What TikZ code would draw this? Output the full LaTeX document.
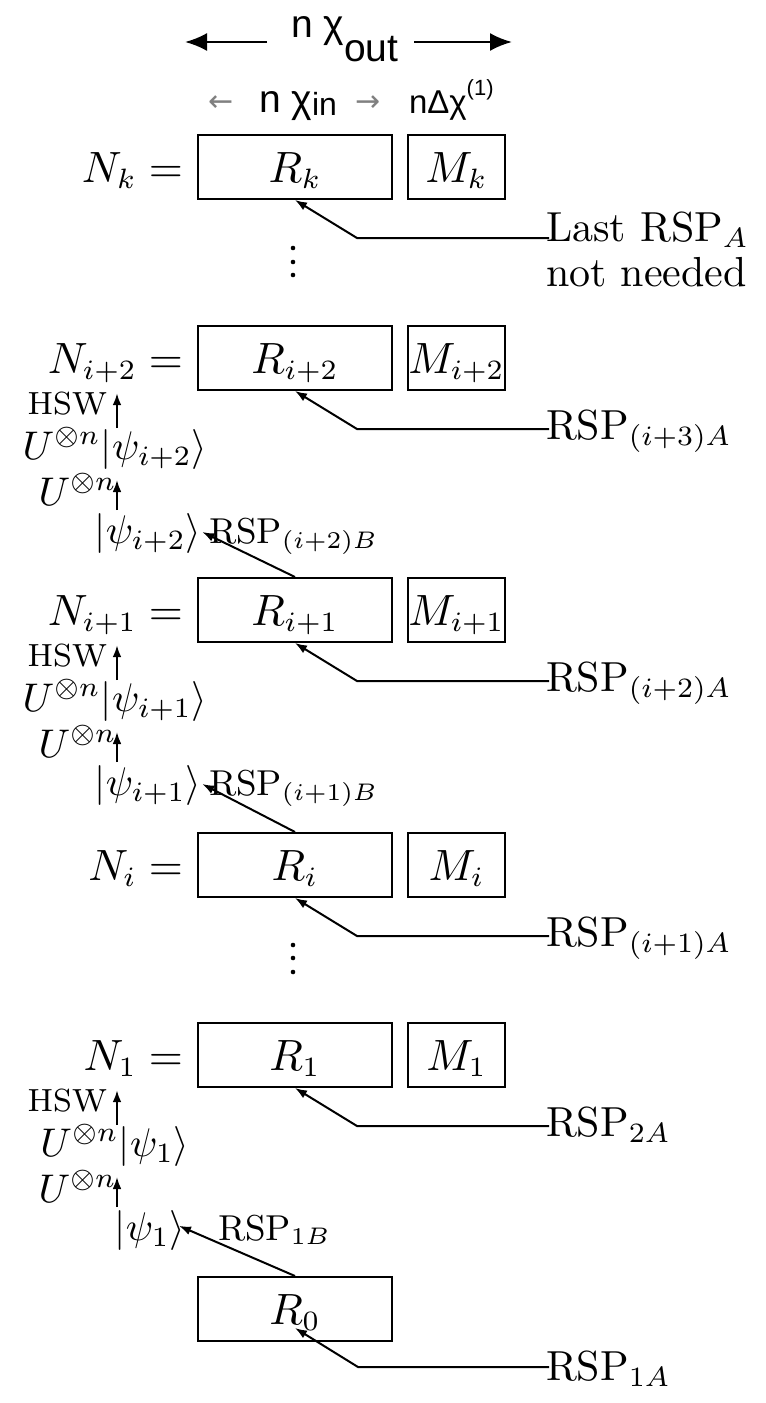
\documentclass[tikz,border=0pt]{standalone}
\usepackage{fontspec}
\usepackage{graphicx}
\usetikzlibrary{arrows.meta}
\newfontfamily\arialf{Liberation Sans}
\newfontfamily\djvf{DejaVu Sans}
\newcommand\fmain{\fontsize{10.5}{12.6}\selectfont}
\newcommand\fstack{\fontsize{10}{12}\selectfont}
\newcommand\fulab{\fontsize{9.6}{11.5}\selectfont}
\newcommand\fsmall{\fontsize{9}{11}\selectfont}
\newcommand\fhsw{\fontsize{8}{9.6}\selectfont}
\begin{document}
\begin{tikzpicture}[x=0.25pt,y=-0.25pt,line width=0.5pt,
  rbox/.style={draw, minimum width=48.5pt, minimum height=16pt, inner sep=0pt, text height=9pt, text depth=1.5pt, font=\fmain},
  mbox/.style={rbox, minimum width=24.25pt},
  lbl/.style={inner sep=0pt, font=\fmain},
  nlbl/.style={lbl, anchor=base east, text depth=4.8pt},
  albl/.style={lbl, anchor=base west},
  hsw/.style={lbl, font=\fhsw, anchor=base east},
  upsi/.style={lbl, font=\fstack, anchor=base, text height=7.5pt, text depth=2.5pt},
  ulbl/.style={lbl, font=\fulab, anchor=base east},
  psi/.style={lbl, font=\fstack, anchor=base, text height=8pt, text depth=2.5pt},
  blbl/.style={lbl, font=\fsmall, anchor=base west},
  dotc/.style={circle, fill, inner sep=0pt, minimum size=1.15pt},
  arr/.style={-{Latex[length=3pt,width=2.2pt]}},
  uarr/.style={arr, shorten >=2.5pt},
  bigarr/.style={line width=0.6pt, -{Latex[length=5.5pt,width=4.5pt]}},
  sans/.style={inner sep=0pt, anchor=base west, font=\arialf\fontsize{9.75}{11}\selectfont},
  tinyarr/.style={inner sep=0pt, font=\djvf\fontsize{7.5}{9}\selectfont, text=gray}
]
\fill[white] (0,0) rectangle (765,1403);
\useasboundingbox (0,0) rectangle (765,1403);
\coordinate (ax) at (117,0);

% ---- header ----
\node[sans] (nout) at (290,37) {n χ\raisebox{-6pt}{out}};
\coordinate (oL) at (185,42);
\coordinate (oR) at (512,42);
\draw[bigarr, shorten <=5.75pt] (nout.west |- oL) -- (oL);
\draw[bigarr, shorten <=3.75pt] (nout.east |- oR) -- (oR);
\node[tinyarr] (la) at (221,104) {←};
\node[sans] (nin) at (258,112) {n χ\raisebox{-0.75pt}{\fontsize{8}{9}\selectfont in}};
\node[tinyarr] (ra) at (368,104) {→};
\node[sans, font=\arialf\fontsize{8.25}{10}\selectfont] (ndx) at (408,113) {nΔχ\raisebox{4.5pt}{\fontsize{5.5}{6}\selectfont(1)}};

% ---- row k ----
\node[rbox] (Rk) at (295,167) {$R_k$};
\node[mbox] (Mk) at (456.5,167) {$M_k$};
\node[nlbl] (Nk) at (184,182) {$N_k =$};
\node[albl] (Ak) at (545,241) {\fontsize{10.5}{11.25}\selectfont\begin{tabular}[t]{@{}l@{}}Last RSP$_A$\\not needed\end{tabular}};
\coordinate (ak) at (549,238);
\coordinate (ek) at (357,238);
\draw[arr] (ak) -- (ek) -- (Rk.south);
\node[dotc] (d1a) at (293,248) {};
\node[dotc] (d1b) at (293,262) {};
\node[dotc] (d1c) at (293,275) {};

% ---- row i+2 ----
\node[rbox] (R2) at (295,358) {$R_{i+2}$};
\node[mbox] (M2) at (456.5,358) {$M_{i+2}$};
\node[nlbl] (N2) at (184,373) {$N_{i+2} =$};
\node[albl] (A2) at (545,439) {$\mathrm{RSP}_{(i+3)A}$};
\coordinate (a2) at (549,429);
\coordinate (e2) at (357,429);
\draw[arr] (a2) -- (e2) -- (R2.south);
\node[hsw] (H2) at (108,414) {HSW};
\node[upsi] (UP2) at (115,459) {$U^{\otimes n}|\psi_{i+2}\rangle$};
\node[ulbl] (U2) at (118,505) {$U^{\otimes n}$};
\node[psi] (P2) at (148,543) {$|\psi_{i+2}\rangle$};
\node[blbl] (B2) at (208,543) {$\mathrm{RSP}_{(i+2)B}$};
\draw[arr] (UP2.north -| ax) -- (N2.south -| ax);
\draw[uarr] (P2.north -| ax) -- (UP2.south -| ax);

% ---- row i+1 ----
\node[rbox] (R1p) at (295,610) {$R_{i+1}$};
\node[mbox] (M1p) at (456.5,610) {$M_{i+1}$};
\node[nlbl] (N1p) at (184,625) {$N_{i+1} =$};
\node[albl] (A1p) at (545,691) {$\mathrm{RSP}_{(i+2)A}$};
\coordinate (a1p) at (549,681);
\coordinate (e1p) at (357,681);
\draw[arr] (a1p) -- (e1p) -- (R1p.south);
\draw[arr] (R1p.north) -- (P2.east);
\node[hsw] (H1p) at (108,666) {HSW};
\node[upsi] (UP1p) at (115,711) {$U^{\otimes n}|\psi_{i+1}\rangle$};
\node[ulbl] (U1p) at (118,757) {$U^{\otimes n}$};
\node[psi] (P1p) at (148,795) {$|\psi_{i+1}\rangle$};
\node[blbl] (B1p) at (208,795) {$\mathrm{RSP}_{(i+1)B}$};
\draw[arr] (UP1p.north -| ax) -- (N1p.south -| ax);
\draw[uarr] (P1p.north -| ax) -- (UP1p.south -| ax);

% ---- row i ----
\node[rbox] (Ri) at (295,865) {$R_i$};
\node[mbox] (Mi) at (456.5,865) {$M_i$};
\node[nlbl] (Ni) at (184,880) {$N_i =$};
\node[albl] (Ai) at (545,946) {$\mathrm{RSP}_{(i+1)A}$};
\coordinate (ai) at (549,936);
\coordinate (ei) at (357,936);
\draw[arr] (ai) -- (ei) -- (Ri.south);
\draw[arr] (Ri.north) -- (P1p.east);
\node[dotc] (d2a) at (293,945) {};
\node[dotc] (d2b) at (293,958) {};
\node[dotc] (d2c) at (293,972) {};

% ---- row 1 ----
\node[rbox] (R1) at (295,1055) {$R_1$};
\node[mbox] (M1) at (456.5,1055) {$M_1$};
\node[nlbl] (N1) at (184,1070) {$N_1 =$};
\node[albl] (A1) at (545,1136) {$\mathrm{RSP}_{2A}$};
\coordinate (a1) at (549,1126);
\coordinate (e1) at (357,1126);
\draw[arr] (a1) -- (e1) -- (R1.south);
\node[hsw] (H1) at (108,1111) {HSW};
\node[upsi] (UP1) at (115,1156) {$U^{\otimes n}|\psi_1\rangle$};
\node[ulbl] (U1) at (118,1202) {$U^{\otimes n}$};
\node[psi] (P1) at (150,1240) {$|\psi_1\rangle$};
\node[blbl] (B1) at (217,1240) {$\mathrm{RSP}_{1B}$};
\draw[arr] (UP1.north -| ax) -- (N1.south -| ax);
\draw[uarr] (P1.north -| ax) -- (UP1.south -| ax);

% ---- row 0 ----
\node[rbox] (R0) at (295,1309) {$R_0$};
\draw[arr, shorten >=-2pt] (R0.north) -- (P1.east);
\node[albl] (A0) at (545,1380) {$\mathrm{RSP}_{1A}$};
\coordinate (a0) at (549,1367);
\coordinate (e0) at (358,1367);
\draw[arr] (a0) -- (e0) -- ([yshift=3.5pt]R0.south);
\end{tikzpicture}
\end{document}
